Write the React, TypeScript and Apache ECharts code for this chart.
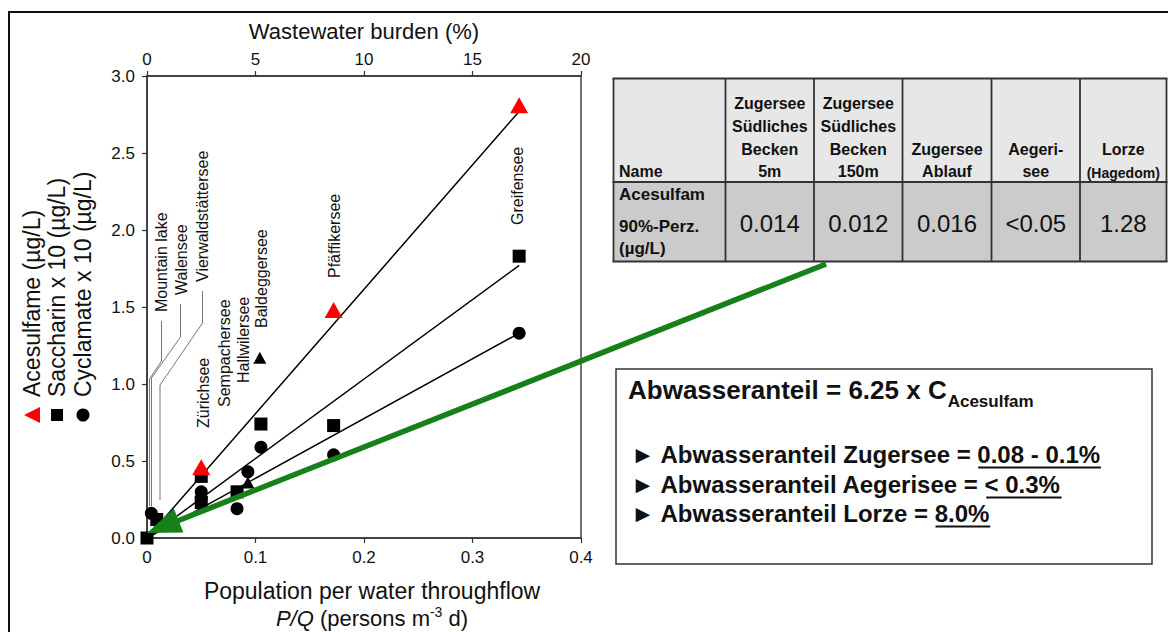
import React, { useEffect, useRef } from 'react';
import * as echarts from 'echarts';

const FONT = '"Liberation Sans", Arial, Helvetica, sans-serif';

// Population per water throughflow P/Q (persons m^-3 d) vs. measured concentration
const acesulfame: [number, number][] = [[0.05, 0.46], [0.172, 1.48], [0.343, 2.81]];
const acesulfameOther: [number, number][] = [[0.093, 0.36], [0.104, 1.17]];
const saccharin: [number, number][] = [
  [0, 0], [0.009, 0.12], [0.05, 0.4], [0.05, 0.23], [0.083, 0.3], [0.105, 0.74], [0.172, 0.73], [0.343, 1.83],
];
const cyclamate: [number, number][] = [
  [0.004, 0.16], [0.05, 0.3], [0.05, 0.26], [0.083, 0.19], [0.093, 0.43], [0.105, 0.59], [0.172, 0.54], [0.343, 1.33],
];

// Regression lines through the origin
const acesulfameFit: [number, number][] = [[0, 0], [0.343, 2.77]];
const saccharinFit: [number, number][] = [[0, 0], [0.343, 1.77]];
const cyclamateFit: [number, number][] = [[0, 0], [0.343, 1.33]];

const pqTicks = ['0', '0.1', '0.2', '0.3', '0.4'];
const burdenTicks = ['0', '5', '10', '15', '20'];
const concTicks = ['0.0', '0.5', '1.0', '1.5', '2.0', '2.5', '3.0'];

const lakeNames = [
  'Mountain lake', 'Walensee', 'Vierwaldstättersee', 'Zürichsee', 'Sempachersee',
  'Hallwilersee', 'Baldeggersee', 'Pfäffikersee', 'Greifensee',
];
const legendNames = ['Acesulfame (µg/L)', 'Saccharin x 10 (µg/L)', 'Cyclamate x 10 (µg/L)'];

// Table: acesulfame 90th percentile per site
const siteHeaders = [
  ['Zugersee', 'Südliches', 'Becken', '5m'],
  ['Zugersee', 'Südliches', 'Becken', '150m'],
  ['Zugersee', 'Ablauf'],
  ['Aegeri-', 'see'],
  ['Lorze', '(Hagedom)'],
];
const acesulfamP90 = ['0.014', '0.012', '0.016', '<0.05', '1.28'];
const rowHeader = ['Acesulfam', '90%-Perz.', '(µg/L)'];

const shareFactor = '6.25';
const shares = [
  ['Zugersee', '0.08 - 0.1%'],
  ['Aegerisee', '< 0.3%'],
  ['Lorze', '8.0%'],
];

const ctx = document.createElement('canvas').getContext('2d') as CanvasRenderingContext2D;
function tw(text: string, font: string) {
  ctx.font = font;
  return ctx.measureText(text).width;
}

function txt(x: number, y: number, text: string, font: string, o: any = {}) {
  const align = o.align || 'left';
  const va = o.va || 'middle';
  return {
    type: 'text',
    x,
    y,
    rotation: o.rotation || 0,
    z: o.z ?? 5,
    silent: true,
    style: {
      text,
      font,
      fill: o.fill || '#111',
      align,
      verticalAlign: va,
      textAlign: align,
      textVerticalAlign: va,
    },
  };
}

function line(x1: number, y1: number, x2: number, y2: number, stroke: string, lineWidth: number, z = 4) {
  return { type: 'line', z, silent: true, shape: { x1, y1, x2, y2 }, style: { stroke, lineWidth } };
}

function buildGraphics() {
  const g: any[] = [];
  const f = (s: number, b = false, i = false) => `${i ? 'italic ' : ''}${b ? 'bold ' : ''}${s}px ${FONT}`;

  // slide frame
  g.push({ type: 'rect', z: 0, silent: true, shape: { x: 9, y: 12, width: 1200, height: 700 }, style: { fill: 'none', stroke: '#111', lineWidth: 2 } });

  // axis titles
  g.push(txt(364, 31, 'Wastewater burden (%)', f(22), { align: 'center' }));
  g.push(txt(372, 591, 'Population per water throughflow', f(23), { align: 'center' }));
  const parts = [
    { t: 'P/Q', font: f(22, false, true), dy: 0 },
    { t: ' (persons m', font: f(22), dy: 0 },
    { t: '-3', font: f(14), dy: -6 },
    { t: ' d)', font: f(22), dy: 0 },
  ];
  const total = parts.reduce((s, p) => s + tw(p.t, p.font), 0);
  let px = 372 - total / 2;
  parts.forEach((p) => {
    g.push(txt(px, 618 + p.dy, p.t, p.font));
    px += tw(p.t, p.font);
  });

  // rotated legend
  const legX = [32, 57, 83];
  legendNames.forEach((n, i) => g.push(txt(legX[i], 397, n, f(23), { rotation: Math.PI / 2 })));
  g.push({ type: 'polygon', z: 5, silent: true, shape: { points: [[24, 415], [40, 407], [40, 423]] }, style: { fill: '#ff0000' } });
  g.push({ type: 'rect', z: 5, silent: true, shape: { x: 51, y: 409, width: 12, height: 12 }, style: { fill: '#000' } });
  g.push({ type: 'circle', z: 5, silent: true, shape: { cx: 83, cy: 415, r: 6.5 }, style: { fill: '#000' } });

  // lake labels (rotated) and leader lines
  const lakePos = [
    [161, 312], [181, 295], [202, 282], [203, 428], [224, 407],
    [243, 383], [261, 328], [334, 278], [517, 225],
  ];
  lakeNames.forEach((n, i) => g.push(txt(lakePos[i][0], lakePos[i][1], n, f(16), { rotation: Math.PI / 2 })));
  const leaders = [
    [[161.5, 321], [161.5, 361], [149.5, 379], [149.5, 506]],
    [[180.5, 304], [180.5, 337], [151.5, 378], [151.5, 506]],
    [[202.5, 291], [202.5, 323], [160, 385], [160, 500]],
  ];
  leaders.forEach((pts) => g.push({ type: 'polyline', z: 4, silent: true, shape: { points: pts }, style: { stroke: '#777', lineWidth: 1, fill: null } }));

  // table
  const colX = [613.5, 725.5, 814, 902.5, 991.5, 1080, 1166.5];
  const rowY = [78.5, 182, 261.5];
  g.push({ type: 'rect', z: 3, silent: true, shape: { x: colX[0], y: rowY[0], width: colX[6] - colX[0], height: rowY[1] - rowY[0] }, style: { fill: '#e7e7e7' } });
  g.push({ type: 'rect', z: 3, silent: true, shape: { x: colX[0], y: rowY[1], width: colX[6] - colX[0], height: rowY[2] - rowY[1] }, style: { fill: '#cbcbcb' } });
  rowY.forEach((y) => g.push(line(colX[0] - 1, y, colX[6] + 1, y, '#333', 1.8)));
  colX.forEach((x) => g.push(line(x, rowY[0], x, rowY[2], '#333', 1.8)));
  g.push(txt(619, 171, 'Name', f(16, true)));
  const headLines = [103, 126.3, 149.6, 171.3];
  siteHeaders.forEach((lines, c) => {
    const cx = (colX[c + 1] + colX[c + 2]) / 2;
    const start = headLines.length - lines.length;
    lines.forEach((t, k) => {
      const small = t.startsWith('(');
      g.push(txt(cx, headLines[start + k] + (small ? 1.5 : 0), t, f(small ? 14 : 16, true), { align: 'center' }));
    });
  });
  const rowLines = [194, 226, 248];
  rowHeader.forEach((t, k) => g.push(txt(619, rowLines[k], t, f(17, true))));
  acesulfamP90.forEach((v, c) => {
    const cx = (colX[c + 1] + colX[c + 2]) / 2;
    g.push(txt(cx, 223, v, f(24), { align: 'center' }));
  });

  // formula box
  g.push({ type: 'rect', z: 3, silent: true, shape: { x: 616, y: 369, width: 536, height: 195 }, style: { fill: '#fff', stroke: '#333', lineWidth: 1.5 } });
  const mainF = f(26, true);
  const main = `Abwasseranteil = ${shareFactor} x C`;
  g.push(txt(628, 390, main, mainF));
  g.push(txt(628 + tw(main, mainF) + 1, 401, 'Acesulfam', f(17, true)));
  const bF = f(24, true);
  const baseY = [463, 493, 522];
  shares.forEach(([site, val], i) => {
    const pre = `► Abwasseranteil ${site} = `;
    const x0 = 631;
    const y = baseY[i];
    g.push(txt(x0, y - 8.5, pre + val, bF));
    const ux = x0 + tw(pre, bF);
    g.push(line(ux, y + 4.5, ux + tw(val, bF), y + 4.5, '#111', 1.8, 5));
  });

  // green arrow from the table to the origin of the plot
  const S = [826, 264];
  const T = [147, 533];
  const dx = T[0] - S[0];
  const dy = T[1] - S[1];
  const len = Math.hypot(dx, dy);
  const ux = dx / len;
  const uy = dy / len;
  const headL = 34;
  const headW = 13;
  const B = [T[0] - headL * ux, T[1] - headL * uy];
  const nx = -uy;
  const ny = ux;
  g.push({ type: 'line', z: 20, silent: true, shape: { x1: S[0], y1: S[1], x2: B[0] + 2 * ux, y2: B[1] + 2 * uy }, style: { stroke: '#16801a', lineWidth: 5.5 } });
  g.push({
    type: 'polygon', z: 20, silent: true,
    shape: { points: [T, [B[0] + headW * nx, B[1] + headW * ny], [B[0] - headW * nx, B[1] - headW * ny]] },
    style: { fill: '#16801a' },
  });
  return g;
}

export default function App() {
  const ref = useRef<HTMLDivElement>(null);
  useEffect(() => {
    if (!ref.current) return;
    const chart = echarts.init(ref.current, null, { renderer: 'svg' });
    const axisLine = { show: true, onZero: false, lineStyle: { color: '#333', width: 1.5 } };
    const axisTick = { show: true, length: 5, lineStyle: { color: '#333', width: 1.2 } };
    const label = { fontSize: 17, color: '#111', fontFamily: FONT };
    chart.setOption({
      animation: false,
      backgroundColor: '#fff',
      grid: { left: 147, right: 587, top: 76, bottom: 94, show: true, borderColor: '#444', borderWidth: 1.5 },
      xAxis: [
        {
          type: 'value', position: 'bottom', min: 0, max: 0.4, interval: 0.1,
          axisLine, axisTick, splitLine: { show: false },
          axisLabel: { ...label, margin: 11, formatter: (v: number) => pqTicks[Math.round(v / 0.1)] },
        },
        {
          type: 'value', position: 'top', min: 0, max: 20, interval: 5,
          axisLine, axisTick, splitLine: { show: false },
          axisLabel: { ...label, margin: 8, formatter: (v: number) => burdenTicks[Math.round(v / 5)] },
        },
      ],
      yAxis: {
        type: 'value', min: 0, max: 3, interval: 0.5,
        axisLine, axisTick, splitLine: { show: false },
        axisLabel: { ...label, margin: 12, formatter: (v: number) => concTicks[Math.round(v / 0.5)] },
      },
      series: [
        { type: 'line', data: acesulfameFit, symbol: 'none', silent: true, z: 2, lineStyle: { color: '#000', width: 1.5 } },
        { type: 'line', data: saccharinFit, symbol: 'none', silent: true, z: 2, lineStyle: { color: '#000', width: 1.5 } },
        { type: 'line', data: cyclamateFit, symbol: 'none', silent: true, z: 2, lineStyle: { color: '#000', width: 1.5 } },
        { type: 'scatter', data: cyclamate, symbol: 'circle', symbolSize: 13, z: 3, itemStyle: { color: '#000', opacity: 1 } },
        { type: 'scatter', data: saccharin, symbol: 'rect', symbolSize: 13, z: 3, itemStyle: { color: '#000', opacity: 1 } },
        { type: 'scatter', data: acesulfameOther, symbol: 'triangle', symbolSize: [13, 12], z: 3, itemStyle: { color: '#000', opacity: 1 } },
        { type: 'scatter', data: acesulfame, symbol: 'triangle', symbolSize: [18, 16], z: 4, itemStyle: { color: '#ff0000', opacity: 1 } },
      ],
      graphic: { elements: buildGraphics() },
    });
    return () => chart.dispose();
  }, []);
  return <div ref={ref} style={{ position: 'absolute', left: 0, top: 0, width: 1168, height: 632, background: '#fff' }} />;
}
